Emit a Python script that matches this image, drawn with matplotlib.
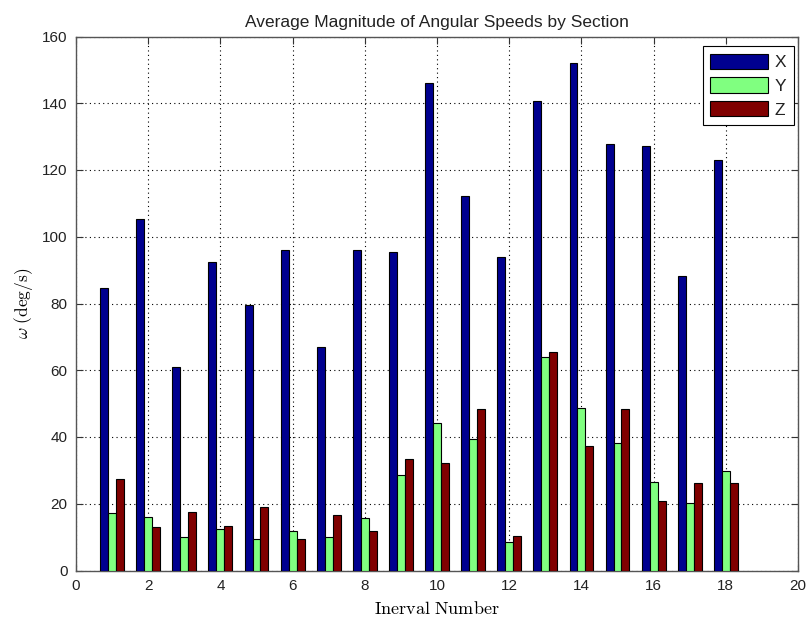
import numpy as np
import matplotlib
matplotlib.use("Agg")
import matplotlib.pyplot as plt

plt.rcParams['mathtext.fontset'] = 'cm'
plt.rcParams['font.family'] = ['Liberation Sans', 'DejaVu Sans']

intervals = list(range(1, 19))
x_speed = [84.7, 105.4, 61.1, 92.3, 79.7, 96.1, 67.0, 96.1, 95.5, 146.1,
           112.3, 94.0, 140.6, 152.0, 127.8, 127.1, 88.1, 123.0]
y_speed = [17.3, 16.0, 10.1, 12.3, 9.5, 11.9, 10.1, 15.6, 28.5, 44.3,
           39.5, 8.4, 64.0, 48.7, 38.1, 26.4, 20.1, 29.8]
z_speed = [27.4, 12.9, 17.4, 13.3, 19.1, 9.5, 16.7, 11.9, 33.3, 32.3,
           48.5, 10.2, 65.4, 37.2, 48.5, 20.8, 26.1, 26.1]
series_names = ['X', 'Y', 'Z']
colors = ['#00008F', '#80FF80', '#800000']

fig = plt.figure(figsize=(8.11, 6.25), dpi=100)
ax = fig.add_axes([0.0937, 0.0872, 0.8903, 0.8544])

pos = np.array(intervals, dtype=float)
w = 0.22
for k, (vals, name, col) in enumerate(zip([x_speed, y_speed, z_speed], series_names, colors)):
    ax.bar(pos + (k - 1) * w, vals, width=w, color=col, edgecolor='black',
           linewidth=0.8, label=name, zorder=3)

ax.set_xlim(0, 20)
ax.set_ylim(0, 160)
ax.set_xticks(range(0, 21, 2))
ax.set_yticks(range(0, 161, 20))
ax.grid(True, linestyle=(0, (1, 3)), color='black', linewidth=0.8, zorder=0)
ax.tick_params(direction='in', top=True, right=True, length=5, labelsize=11,
               colors='#333333', labelcolor='#222222', pad=6)
for s in ax.spines.values():
    s.set_color('#555555')
    s.set_linewidth(1.0)

ax.set_title('Average Magnitude of Angular Speeds by Section', fontsize=12.5,
             pad=7, color='#222222')
ax.set_xlabel(r'$\mathrm{Inerval\ Number}$', fontsize=13, labelpad=6)
ax.set_ylabel(r'$\omega\ \mathrm{(deg/s)}$', fontsize=12.5, labelpad=5)

leg = ax.legend(loc='upper right', bbox_to_anchor=(0.9945, 0.9822),
                fontsize=12.5, handlelength=3.3, handleheight=0.98,
                fancybox=False, framealpha=1, edgecolor='black',
                borderaxespad=0.0, labelspacing=0.4, handletextpad=0.4,
                borderpad=0.45)
leg.get_frame().set_linewidth(0.8)
for t in leg.get_texts():
    t.set_color('#222222')

fig.savefig('out.png', dpi=100)
